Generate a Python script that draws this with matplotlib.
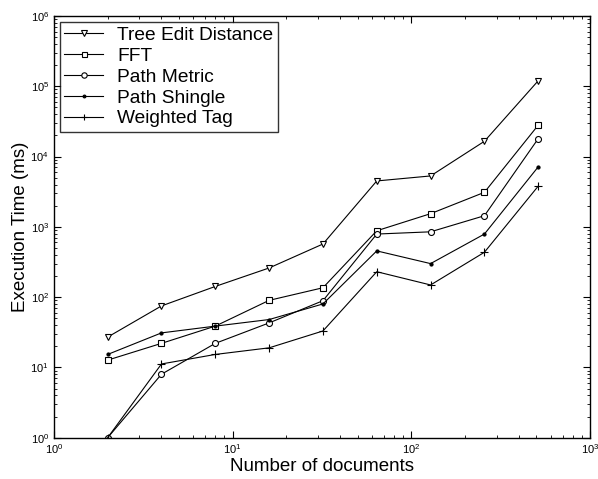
import matplotlib
matplotlib.use("Agg")
import matplotlib.pyplot as plt

plt.rcParams['font.family'] = ['Liberation Sans', 'DejaVu Sans']
plt.rcParams['mathtext.fontset'] = 'custom'
plt.rcParams['mathtext.rm'] = 'Liberation Sans'

docs = [2, 4, 8, 16, 32, 64, 128, 256, 512]
tree_edit = [27, 75, 142, 260, 570, 4500, 5300, 16500, 120000]
fft = [12.7, 22, 38.7, 90, 136, 880, 1540, 3100, 28000]
path_metric = [1, 8, 22, 43, 89, 790, 850, 1440, 18000]
path_shingle = [15.3, 31, 38.7, 48, 80, 455, 300, 790, 7150]
weighted_tag = [1, 11.2, 15.3, 19, 33, 230, 149, 435, 3800]

series = [
    ("Tree Edit Distance", tree_edit, dict(marker='v', ms=4.2, mfc='white')),
    ("FFT", fft, dict(marker='s', ms=4.0, mfc='white')),
    ("Path Metric", path_metric, dict(marker='o', ms=4.3, mfc='white')),
    ("Path Shingle", path_shingle, dict(marker='.', ms=4.5, mfc='black')),
    ("Weighted Tag", weighted_tag, dict(marker='+', ms=5.5, mfc='black')),
]

fig = plt.figure(figsize=(5.98, 4.79), dpi=100)
ax = fig.add_axes([0.09, 0.0862, 0.897, 0.8804])
for name, vals, st in series:
    ax.plot(docs, vals, color='black', lw=0.8, mec='black', mew=0.8, label=name, **st)

ax.set_xscale('log')
ax.set_yscale('log')
ax.set_xlim(1, 1000)
ax.set_ylim(1, 1e6)
ax.set_xlabel("Number of documents", fontsize=13.5, labelpad=1)
ax.set_ylabel("Execution Time (ms)", fontsize=13.5, labelpad=1)
ax.tick_params(which='both', direction='in', top=True, right=True, labelsize=8)
ax.tick_params(which='major', length=5)
ax.tick_params(which='minor', length=2.5)
for s in ax.spines.values():
    s.set_linewidth(1.0)

leg = ax.legend(loc='upper left', fontsize=13.8, frameon=True, fancybox=False,
                edgecolor='black', handlelength=2.0, borderpad=0.25,
                labelspacing=0.18, handletextpad=0.75, borderaxespad=0.3,
                markerscale=0.9)
leg.get_frame().set_linewidth(1.0)

fig.savefig("out.png", dpi=100)
